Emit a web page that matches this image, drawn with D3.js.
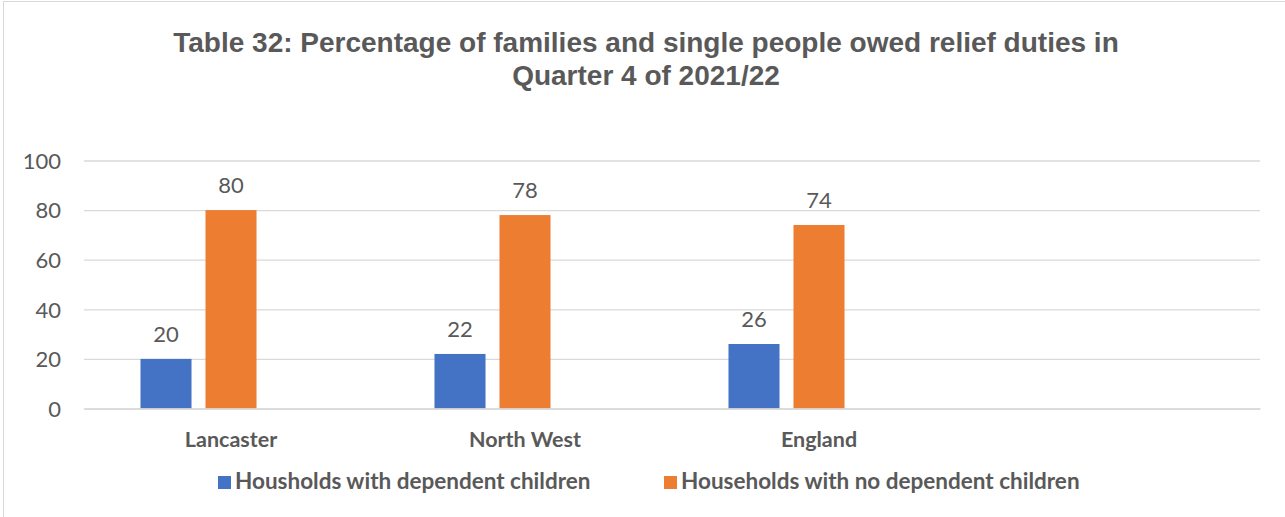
<!DOCTYPE html>
<html>
<head>
<meta charset="utf-8">
<script src="https://cdn.jsdelivr.net/npm/d3@7"></script>
<style>
  html, body { margin: 0; padding: 0; background: #fff; }
  svg { display: block; }
</style>
</head>
<body>
<svg id="chart" width="1285" height="517"></svg>
<script>
// Category rows (the last row of the sheet is blank but still reserves a slot)
const categories = ["Lancaster", "North West", "England", ""];
// Series names; the third column is empty and only reserves bar space
const seriesNames = ["Housholds with dependent children", "Households with no dependent children", ""];
const withChildren = [20, 22, 26, null];
const noChildren = [80, 78, 74, null];
const emptySeries = [null, null, null, null];
const yTicks = [0, 20, 40, 60, 80, 100];
const titleLines = ["Table 32: Percentage of families and single people owed relief duties in", "Quarter 4 of 2021/22"];

const seriesColors = ["#4472C4", "#ED7D31", "none"];
const seriesValues = [withChildren, noChildren, emptySeries];

const svg = d3.select("#chart");
const W = 1285, H = 517;
const plot = { left: 84, right: 1260, top: 160.5, bottom: 408.5 };
const textGray = "#595959";
const axisFont = "Lato, 'Open Sans', sans-serif";

// chart frame
svg.append("rect")
  .attr("x", 3.5).attr("y", 1.5)
  .attr("width", W + 10).attr("height", H + 10)
  .attr("fill", "#fff").attr("stroke", "#D9D9D9").attr("stroke-width", 1);

// title
svg.append("text")
  .attr("x", 646).attr("y", 52)
  .attr("text-anchor", "middle")
  .attr("font-family", "'Liberation Sans', Arial, sans-serif")
  .attr("font-weight", "bold").attr("font-size", 28)
  .attr("fill", textGray)
  .selectAll("tspan").data(titleLines).join("tspan")
  .attr("x", 646).attr("dy", (d, i) => i === 0 ? 0 : 33)
  .text(d => d);

const x0 = d3.scaleBand().domain(categories).range([plot.left, plot.right]).padding(0);
const x1 = d3.scaleBand().domain(d3.range(seriesNames.length))
  .range([0, x0.bandwidth()]).paddingInner(0.215).paddingOuter(0.869);
const y = d3.scaleLinear().domain([0, 100]).range([plot.bottom, plot.top]);

// gridlines
svg.append("g")
  .attr("transform", `translate(${plot.left},0)`)
  .call(d3.axisLeft(y).tickValues(yTicks).tickSize(-(plot.right - plot.left)).tickFormat(""))
  .call(g => g.select(".domain").remove())
  .call(g => g.selectAll("line").attr("stroke", "#D9D9D9").attr("stroke-width", 1.3));

// y tick labels
svg.append("g")
  .attr("transform", `translate(61,0)`)
  .call(d3.axisLeft(y).tickValues(yTicks).tickSize(0).tickPadding(0))
  .call(g => g.select(".domain").remove())
  .call(g => g.selectAll("text")
    .attr("font-family", axisFont).attr("font-size", 22)
    .attr("fill", textGray).attr("dy", "0.35em"));

// bars
const rows = categories.map((c, i) => ({ cat: c, vals: seriesValues.map(s => s[i]) }));
const groups = svg.append("g").selectAll("g").data(rows).join("g")
  .attr("transform", d => `translate(${x0(d.cat)},0)`);

const cells = groups.selectAll("g.cell")
  .data(d => d.vals.map((v, k) => ({ k, v })).filter(e => e.v != null))
  .join("g").attr("class", "cell");

cells.append("rect")
  .attr("x", d => x1(d.k))
  .attr("width", x1.bandwidth())
  .attr("y", d => y(d.v))
  .attr("height", d => y(0) - y(d.v))
  .attr("fill", d => seriesColors[d.k]);

cells.append("text")
  .attr("x", d => x1(d.k) + x1.bandwidth() / 2)
  .attr("y", d => y(d.v) - 17)
  .attr("text-anchor", "middle")
  .attr("font-family", axisFont).attr("font-size", 22)
  .attr("fill", textGray)
  .text(d => d.v);

// category labels
svg.append("g")
  .attr("transform", `translate(0,${plot.bottom})`)
  .call(d3.axisBottom(x0).tickSize(0).tickPadding(0))
  .call(g => g.select(".domain").attr("stroke", "#D9D9D9").attr("stroke-width", 1.3))
  .call(g => g.selectAll("text")
    .attr("y", 38.5).attr("dy", 0)
    .attr("font-family", axisFont).attr("font-weight", "bold").attr("font-size", 21.5)
    .attr("fill", textGray));

// legend
const legendItems = [
  { name: seriesNames[0], color: seriesColors[0], x: 218 },
  { name: seriesNames[1], color: seriesColors[1], x: 664 }
];
const lg = svg.append("g").selectAll("g").data(legendItems).join("g")
  .attr("transform", d => `translate(${d.x},476)`);
lg.append("rect").attr("width", 13).attr("height", 13).attr("fill", d => d.color);
lg.append("text")
  .attr("x", 17).attr("y", 12.5)
  .attr("font-family", axisFont).attr("font-weight", "bold").attr("font-size", 22.5)
  .attr("fill", textGray)
  .text(d => d.name);
</script>
</body>
</html>
